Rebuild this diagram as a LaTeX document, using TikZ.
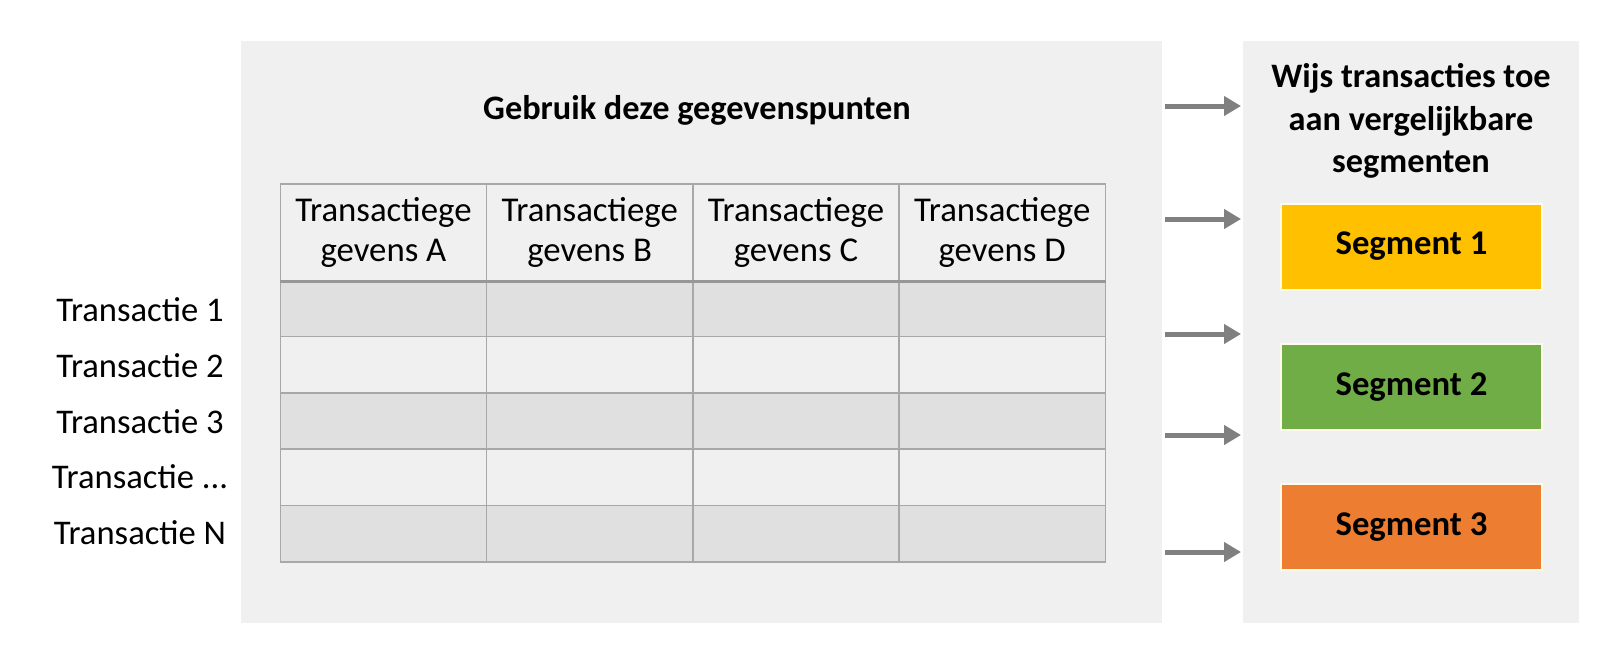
\documentclass[tikz,border=0pt]{standalone}
\usepackage{fontspec}
\setmainfont{Carlito}
\usetikzlibrary{arrows.meta}
\definecolor{panelgray}{HTML}{F0F0F0}
\definecolor{cellgray}{HTML}{E0E0E0}
\definecolor{gridgray}{HTML}{A8A8A8}
\definecolor{arrowgray}{HTML}{808080}
\definecolor{segyellow}{HTML}{FFC000}
\definecolor{seggreen}{HTML}{70AD47}
\definecolor{segorange}{HTML}{ED7D31}
\definecolor{segedge}{HTML}{FFFBEA}
\begin{document}
\begin{tikzpicture}[x=1pt,y=-1pt,
  panel/.style={fill=panelgray, draw=none, inner sep=0pt, anchor=north west},
  titletext/.style={font=\fontsize{34.3}{42.5}\selectfont\bfseries, align=center, inner sep=0pt},
  headcell/.style={draw=gridgray, line width=1.6pt, fill=panelgray, minimum width=206.25pt, minimum height=96.5pt, inner sep=0pt, anchor=north west, align=center, font=\fontsize{34.8}{40}\selectfont},
  datacell/.style={draw=gridgray, line width=1.6pt, minimum width=206.25pt, minimum height=56.3pt, inner sep=0pt, anchor=north west},
  rowlabel/.style={font=\fontsize{34.6}{40}\selectfont, inner sep=0pt},
  segbox/.style={draw=segedge, line width=2pt, minimum width=261pt, minimum height=86pt, inner sep=0pt, font=\fontsize{34.7}{40}\selectfont\bfseries},
  flow/.style={draw=arrowgray, line width=5pt, -{Triangle[length=17pt,width=19pt]}}
]
\useasboundingbox (0,0) rectangle (1611,656);
\fill[white] (0,0) rectangle (1611,656);

% panels
\node[panel, minimum width=921pt, minimum height=582pt] (main) at (241,41) {};
\node[panel, minimum width=336pt, minimum height=582pt] (right) at (1243,41) {};

% titles
\node[titletext] (maintitle) at (697,110) {Gebruik deze gegevenspunten};
\node[titletext] (righttitle) at (1411,121) {Wijs transacties toe\\aan vergelijkbare\\segmenten};

% header cells
\node[headcell] (hA) at (279.5,183) {Transactiege\\gevens A};
\node[headcell] (hB) at (485.75,183) {Transactiege\\gevens B};
\node[headcell] (hC) at (692,183) {Transactiege\\gevens C};
\node[headcell] (hD) at (898.25,183) {Transactiege\\gevens D};

% data cells
\foreach \r in {0,...,4}{
  \pgfmathsetmacro{\yy}{279.5+\r*56.3}
  \pgfmathtruncatemacro{\odd}{mod(\r,2)}
  \ifnum\odd=0 \def\cfill{cellgray}\else\def\cfill{panelgray}\fi
  \foreach \c in {0,...,3}{
    \pgfmathsetmacro{\xx}{279.5+\c*206.25}
    \node[datacell, fill=\cfill] (cell-\r-\c) at (\xx,\yy) {};
  }
}
\draw[gridgray!90!black, line width=3pt] (hA.south west) -- (hD.south east);

% row labels
\node[rowlabel] (r1) at (140,310) {Transactie 1};
\node[rowlabel] (r2) at (140,366) {Transactie 2};
\node[rowlabel] (r3) at (140,422) {Transactie 3};
\node[rowlabel] (r4) at (140,477) {Transactie ...};
\node[rowlabel] (r5) at (140,533) {Transactie N};

% segments
\node[segbox, fill=segyellow] (s1) at (1411.5,246.5) {Segment 1};
\node[segbox, fill=seggreen] (s2) at (1411.5,387) {Segment 2};
\node[segbox, fill=segorange] (s3) at (1411.5,527) {Segment 3};

% arrows
\foreach \i/\y in {1/106,2/219,3/334,4/435,5/552}{
  \coordinate (as\i) at (1165,\y);
  \coordinate (ae\i) at (1241,\y);
  \draw[flow] (as\i) -- (ae\i);
}
\end{tikzpicture}
\end{document}
